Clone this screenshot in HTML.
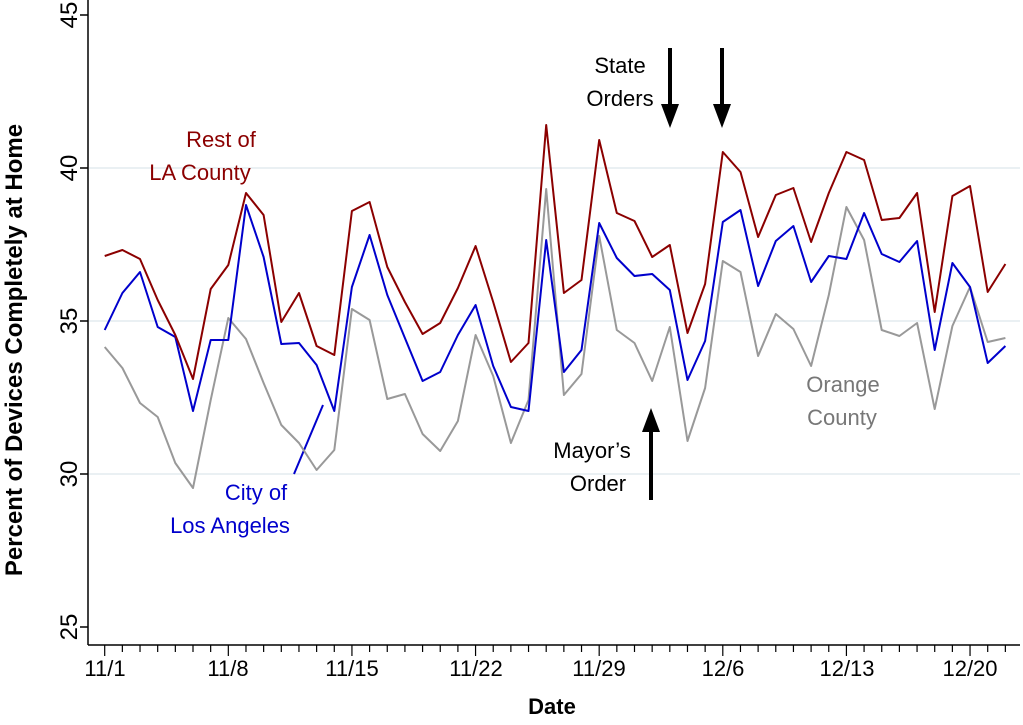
<!DOCTYPE html>
<html><head><meta charset="utf-8"><style>body{margin:0;background:#fff}svg{display:block}</style></head><body>
<svg width="1023" height="725" viewBox="0 0 1023 725" font-family="Liberation Sans, sans-serif">
<g stroke="#dde8ec" stroke-width="1.2"><line x1="89" y1="168" x2="1020" y2="168"/><line x1="89" y1="321" x2="1020" y2="321"/><line x1="89" y1="474" x2="1020" y2="474"/></g>
<g stroke="#000" stroke-width="1.5" fill="none">
<line x1="88" y1="0" x2="88" y2="645"/><line x1="88" y1="645" x2="1020" y2="645"/>
<path d="M80 15H88M80 168H88M80 321H88M80 474H88M80 627H88"/>
</g>
<g id="xt" stroke="#000" stroke-width="1.2"></g>
<g font-size="22" text-anchor="middle" fill="#000">
<g font-size="24">
<text transform="translate(77,15) rotate(-90)">45</text>
<text transform="translate(77,168) rotate(-90)">40</text>
<text transform="translate(77,321) rotate(-90)">35</text>
<text transform="translate(77,474) rotate(-90)">30</text>
<text transform="translate(77,627) rotate(-90)">25</text>
</g>
<text x="105" y="676">11/1</text><text x="228" y="676">11/8</text><text x="352" y="676">11/15</text><text x="476" y="676">11/22</text><text x="599" y="676">11/29</text><text x="723" y="676">12/6</text><text x="847" y="676">12/13</text><text x="970" y="676">12/20</text>
<text x="552" y="714" font-weight="bold">Date</text>
<text transform="translate(22,350) rotate(-90)" font-weight="bold" font-size="24">Percent of Devices Completely at Home</text>
<text x="221" y="147" fill="#8b0000">Rest of</text><text x="200" y="180" fill="#8b0000">LA County</text>
<text x="256" y="500" fill="#0000cc">City of</text><text x="230" y="533" fill="#0000cc">Los Angeles</text>
<text x="843" y="392" fill="#777">Orange</text><text x="842" y="425" fill="#777">County</text>
<text x="620" y="73">State</text><text x="620" y="106">Orders</text>
<text x="592" y="458">Mayor’s</text><text x="598" y="491">Order</text>
</g>
<g stroke="#000" stroke-width="4"><line x1="670" y1="48" x2="670" y2="108"/><line x1="722" y1="48" x2="722" y2="108"/><line x1="651" y1="500" x2="651" y2="428"/></g>
<g fill="#000"><path d="M661 104L679 104L670 128Z"/><path d="M713 104L731 104L722 128Z"/><path d="M642 432L660 432L651 408Z"/></g>
<line x1="294" y1="474" x2="323" y2="405" stroke="#0000cc" stroke-width="2"/>
<g fill="none" stroke-width="2" stroke-linejoin="round">
<polyline id="g" stroke="#999"/><polyline id="b" stroke="#0000cc"/><polyline id="r" stroke="#8b0000"/>
</g>
</svg>
<script>
var R=[256,250,259,300,335,379,289,265,193,215,322,293,346,355,211,202,267,302,334,323,288,246,302,362,343,125,293,280,140,213,221,257,245,333,284,152,172,237,195,188,242,193,152,160,220,218,193,312,196,186,292,264];
var B=[330,293,272,327,337,411,340,340,205,257,344,343,365,411,287,235,295,338,381,372,335,305,366,407,411,240,372,350,223,258,276,274,290,380,341,222,210,286,241,226,282,256,259,213,254,262,241,350,263,287,363,346];
var G=[347,368,403,417,463,488,400,318,339,383,425,443,470,450,309,320,399,394,434,451,421,335,376,443,400,189,395,374,236,330,343,381,327,441,388,261,272,356,314,329,366,295,207,240,330,336,323,409,326,287,342,338];
function p(a){return a.map(function(y,i){return (104.7+17.66*i).toFixed(1)+','+y}).join(' ')}
document.getElementById('r').setAttribute('points',p(R));
document.getElementById('b').setAttribute('points',p(B));
document.getElementById('g').setAttribute('points',p(G));
var s='';for(var i=0;i<52;i++){var x=104.7+17.66*i;s+='<line x1="'+x+'" y1="645" x2="'+x+'" y2="'+(i%7==0?656:652)+'"/>';}
document.getElementById('xt').innerHTML=s;
</script>
</body></html>
